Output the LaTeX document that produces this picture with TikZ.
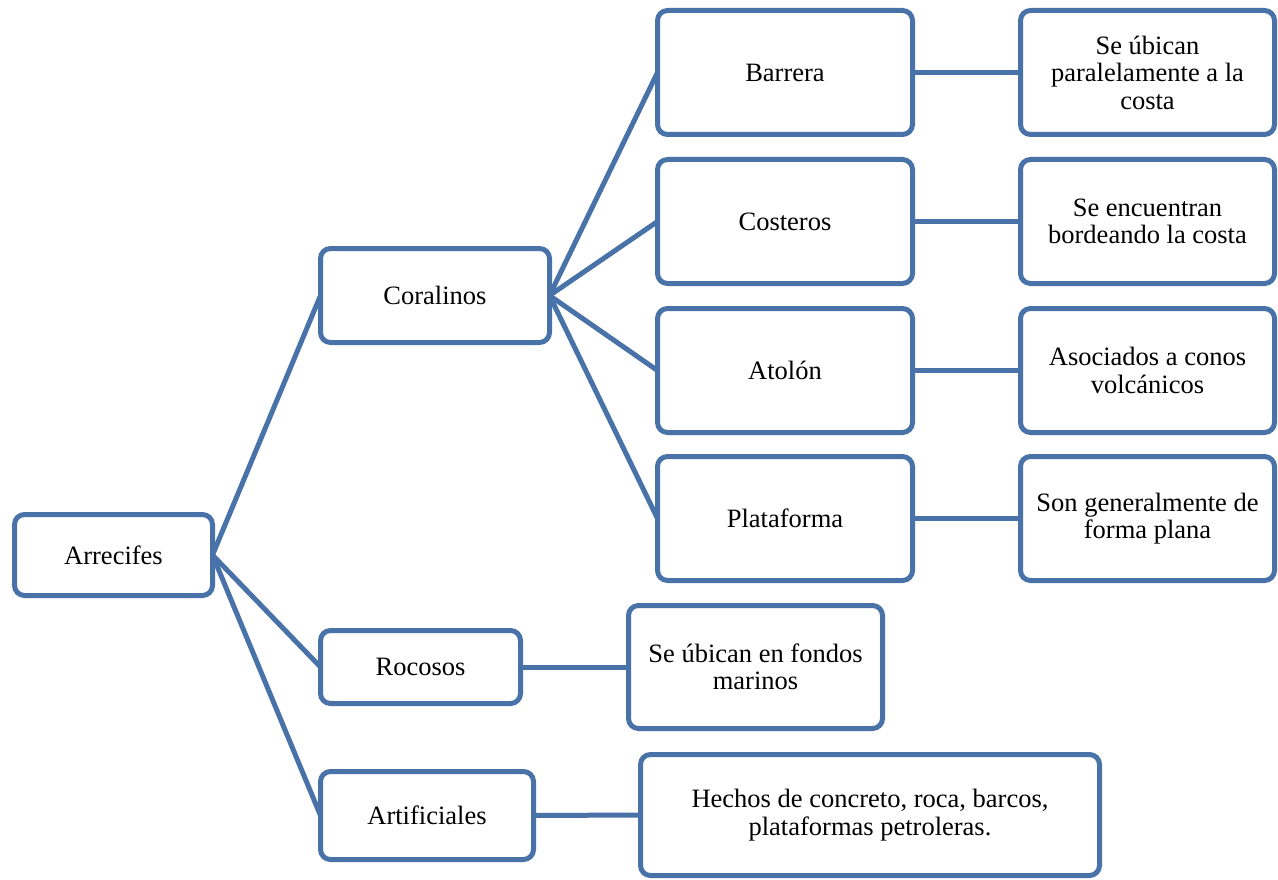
\documentclass[tikz,border=0pt]{standalone}
\usepackage{fontspec}
\setmainfont{Liberation Serif}
\definecolor{boxblue}{RGB}{72,114,168}
\begin{document}
\begin{tikzpicture}[x=1pt,y=-1pt,
  box/.style={draw=boxblue, line width=5pt, rounded corners=10pt, fill=white,
    inner sep=0pt, outer sep=0pt, align=center,
    font=\fontsize{26.5}{27.5}\selectfont},
  link/.style={draw=boxblue, line width=5pt}]
\useasboundingbox (0,0) rectangle (1278,880);

% root and first level
\node[box, minimum width=198pt, minimum height=81pt] (arr) at (113.5,555) {Arrecifes};
\node[box, minimum width=229pt, minimum height=94pt] (cor) at (435,295.5) {Coralinos};
\node[box, minimum width=200pt, minimum height=73pt] (roc) at (420.5,667) {Rocosos};
\node[box, minimum width=213pt, minimum height=88pt] (art) at (427,815.5) {Artificiales};

% kinds of coral reef
\node[box, minimum width=255pt, minimum height=124pt] (bar) at (785,72.5) {Barrera};
\node[box, minimum width=255pt, minimum height=124pt] (cos) at (785,221.5) {Costeros};
\node[box, minimum width=255pt, minimum height=124pt] (ato) at (785,370.5) {Atolón};
\node[box, minimum width=255pt, minimum height=124pt] (pla) at (785,518.5) {Plataforma};

% descriptions
\node[box, minimum width=254pt, minimum height=124pt] (dbar) at (1147.5,72.5) {Se úbican\\paralelamente a la\\costa};
\node[box, minimum width=254pt, minimum height=124pt] (dcos) at (1147.5,221.5) {Se encuentran\\bordeando la costa};
\node[box, minimum width=254pt, minimum height=124pt] (dato) at (1147.5,370.5) {Asociados a conos\\volcánicos};
\node[box, minimum width=254pt, minimum height=124pt] (dpla) at (1147.5,518.5) {Son generalmente de\\forma plana};
\node[box, minimum width=254pt, minimum height=123pt] (droc) at (755.5,667) {Se úbican en fondos\\marinos};
\node[box, minimum width=459pt, minimum height=121pt] (dart) at (870,815) {Hechos de concreto, roca, barcos,\\plataformas petroleras.};

% connectors
\draw[link] (arr.east) -- (cor.west);
\draw[link] (arr.east) -- (roc.west);
\draw[link] (arr.east) -- (art.west);
\draw[link] (cor.east) -- (bar.west);
\draw[link] (cor.east) -- (cos.west);
\draw[link] (cor.east) -- (ato.west);
\draw[link] (cor.east) -- (pla.west);
\draw[link] (bar.east) -- (dbar.west);
\draw[link] (cos.east) -- (dcos.west);
\draw[link] (ato.east) -- (dato.west);
\draw[link] (pla.east) -- (dpla.west);
\draw[link] (roc.east) -- (droc.west);
\draw[link] (art.east) -- (dart.west);
\end{tikzpicture}
\end{document}
